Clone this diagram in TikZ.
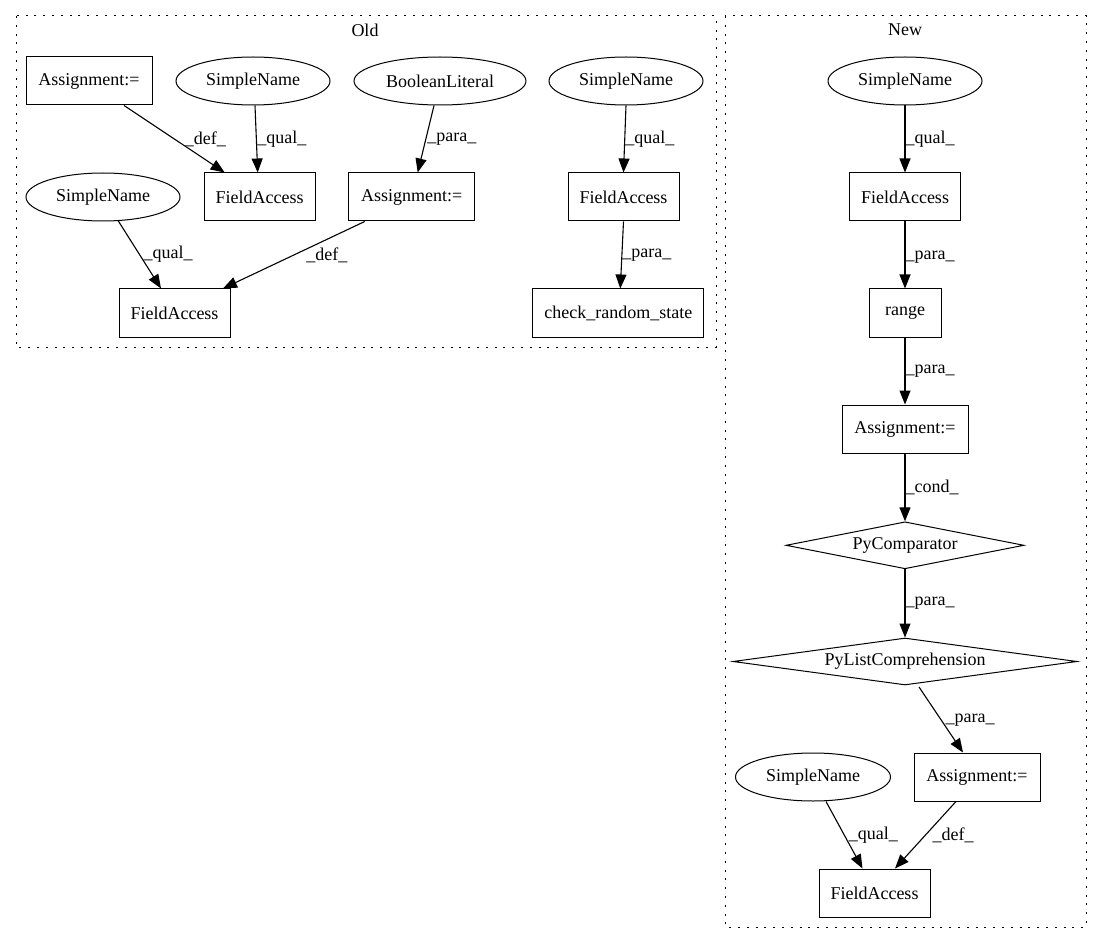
\documentclass[tikz,border=0pt]{standalone}
\usepackage{fontspec}
\setmainfont{Liberation Serif}
\usetikzlibrary{shapes.geometric,arrows.meta}
\begin{document}
\begin{tikzpicture}[x=1pt,y=-1pt,
  every node/.style={font=\fontsize{18}{21}\selectfont},
  box/.style={draw, line width=1pt, rectangle, inner sep=0pt, minimum height=48pt, minimum width=#1},
  ell/.style={draw, line width=1pt, ellipse, inner sep=0pt, minimum height=48pt, minimum width=#1},
  dia/.style={draw, line width=1pt, diamond, inner sep=0pt, minimum height=47pt, minimum width=#1, aspect=6},
  cluster/.style={draw, line width=1pt, dash pattern=on 2pt off 6.8pt},
  conn/.style={draw, line width=1.1pt, -{Triangle[length=14pt,width=11pt]}},
  lbl/.style={anchor=west, inner sep=0pt, pos=0.5},
]
\useasboundingbox (0,0) rectangle (1101,944);

% clusters
\draw[cluster] (16,16) rectangle (716,347);
\draw[cluster] (725,16) rectangle (1086,927);
\node (told) at (365,30) {Old};
\node (tnew) at (905,30) {New};

% Old
\node[box=126pt] (a1) at (89,81) {Assignment:=};
\node[ell=154pt] (sn1) at (253,81) {SimpleName};
\node[ell=172pt] (bl) at (440,81) {BooleanLiteral};
\node[ell=154pt] (sn3) at (626,81) {SimpleName};
\node[box=111pt] (fa1) at (259.7,197) {FieldAccess};
\node[box=126pt] (a2) at (411.7,197) {Assignment:=};
\node[box=111pt] (fa3) at (623.5,197) {FieldAccess};
\node[ell=154pt] (sn2) at (103,197) {SimpleName};
\node[box=111pt] (fa4) at (174.5,313) {FieldAccess};
\node[box=171pt] (crs) at (618.3,313) {check\_random\_state};

\path[conn] ([xshift=35pt]a1.south) -- ([xshift=-35pt]fa1.north) node[lbl, xshift=10pt] {\_def\_};
\path[conn] ([xshift=2pt]sn1.south) -- ([xshift=-2pt]fa1.north) node[lbl, xshift=0.5pt] {\_qual\_};
\path[conn] ([xshift=-6pt]bl.south) -- ([xshift=6pt]a2.north) node[lbl, xshift=1pt] {\_para\_};
\path[conn] (sn3.south) -- (fa3.north) node[lbl] {\_qual\_};
\path[conn] (fa3.south) -- ([xshift=2pt]crs.north) node[lbl] {\_para\_};
\path[conn] ([xshift=15pt,yshift=1pt]sn2.south) -- ([xshift=-13.5pt]fa4.north) node[lbl, xshift=3.5pt] {\_qual\_};
\path[conn] ([xshift=-47pt]a2.south) -- ([xshift=48.5pt]fa4.north) node[lbl, xshift=12pt] {\_def\_};

% New
\node[ell=154pt] (nsn) at (905,81) {SimpleName};
\node[box=111pt] (nfa) at (905,197) {FieldAccess};
\node[box=72pt] (rng) at (905,313) {range};
\node[box=126pt] (na) at (905,429) {Assignment:=};
\node[dia=238pt] (pc) at (905,545.3) {PyComparator};
\node[dia=344pt, aspect=7.2] (plc) at (905,661.5) {PyListComprehension};
\node[ell=155pt] (sn4) at (813,777) {SimpleName};
\node[box=126pt] (a3) at (977,777) {Assignment:=};
\node[box=111pt] (fa5) at (874.5,893) {FieldAccess};

\path[conn] (nsn.south) -- (nfa.north) node[lbl] {\_qual\_};
\path[conn] (nfa.south) -- (rng.north) node[lbl, yshift=-2pt] {\_para\_};
\path[conn] (rng.south) -- (na.north) node[lbl] {\_para\_};
\path[conn] (na.south) -- (pc.north) node[lbl] {\_cond\_};
\path[conn] (pc.south) -- (plc.north) node[lbl] {\_para\_};
\path[conn] ([xshift=14pt,yshift=-1.5pt]plc.south) -- ([xshift=-14pt]a3.north) node[lbl, xshift=4pt] {\_para\_};
\path[conn] ([xshift=13pt]sn4.south) -- ([xshift=-12pt]fa5.north) node[lbl, xshift=4pt] {\_qual\_};
\path[conn] ([xshift=-21pt]a3.south) -- ([xshift=20.5pt]fa5.north) node[lbl, xshift=6.5pt] {\_def\_};
\end{tikzpicture}
\end{document}
